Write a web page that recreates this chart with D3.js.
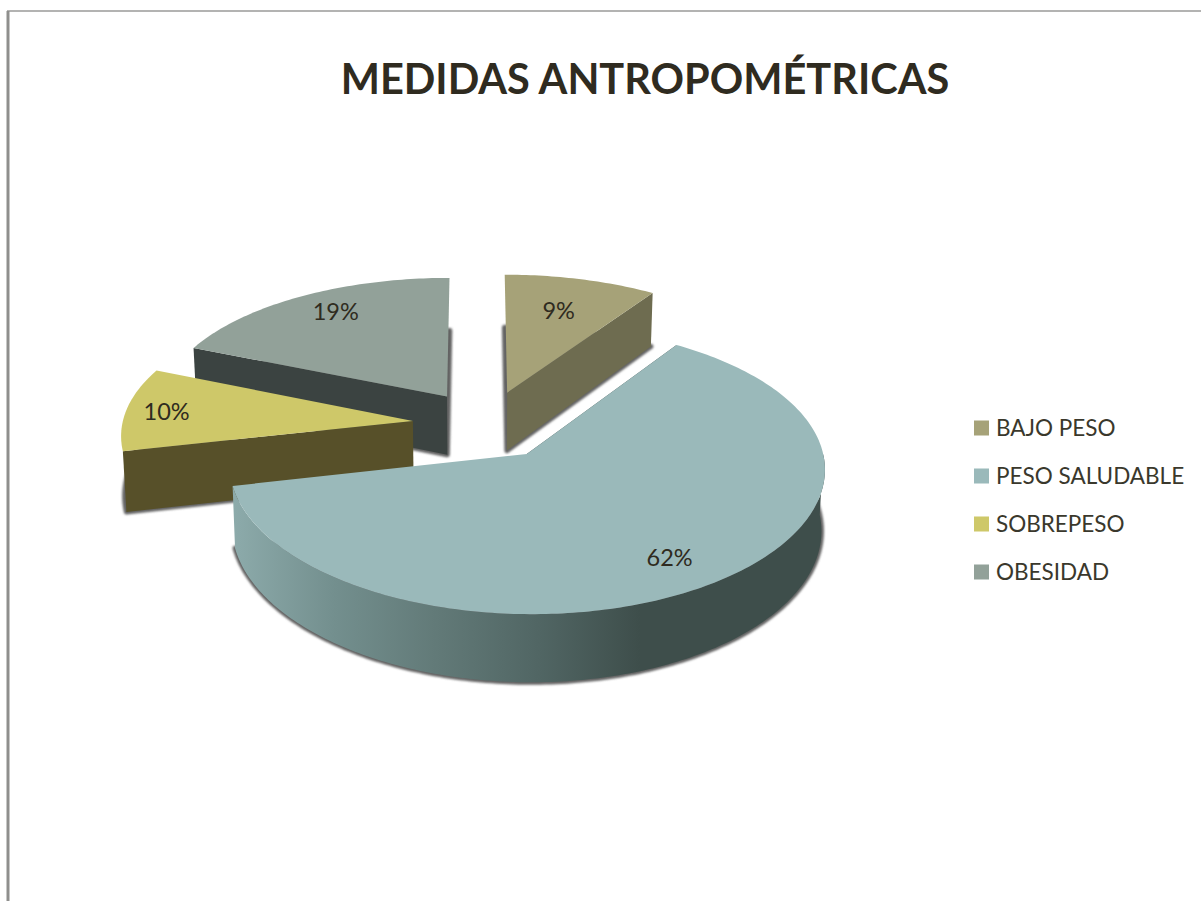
<!DOCTYPE html>
<html>
<head>
<meta charset="utf-8">
<script src="https://cdnjs.cloudflare.com/ajax/libs/d3/7.8.5/d3.min.js"></script>
<style>
html,body{margin:0;padding:0;background:#fff;overflow:hidden}
text{font-family:Lato,"Open Sans",sans-serif}
</style>
</head>
<body>
<div id="chart"></div>
<script>
var categories = ["BAJO PESO","PESO SALUDABLE","SOBREPESO","OBESIDAD"]
var percents = [9.4,62.1,9.8,18.7]
var topColors = ["#a6a278","#9ab9ba","#cec869","#92a199"]
var wallColors = ["#6e6c50","#3e4e4b","#575029","#3b4341"]

var width = 1201
var height = 901

// projection of the tilted disc
var cx = 477, cy = 426
var rx = 291, ry = 137, focal = 9.5, focalX = 11, depth = 59.5, bottomShrink = 0.99
// how far each slice is pulled out of the pie, in radius units
var explodeX = [0.106,0.168,-0.221,-0.105]
var explodeY = [0.25,-0.2,0.037,0.22]
var labelRadius = [0.71,0.8,0.86,0.815]
var labelTurn = [-0.012,0.015,0,0.045]
var drawOrder = [3,2,0,1]

var svg = d3.select("#chart").append("svg").attr("width",width).attr("height",height)
var defs = svg.append("defs")

defs.append("filter").attr("id","soft")
	.attr("x","-10%").attr("y","-10%").attr("width","120%").attr("height","120%")
	.append("feGaussianBlur").attr("stdDeviation",1.3)

var grad = defs.append("linearGradient").attr("id","wallGrad")
	.attr("gradientUnits","userSpaceOnUse")
	.attr("x1",232).attr("x2",640).attr("y1",0).attr("y2",0)
grad.selectAll("stop")
	.data([[0,"#8dabab"],[0.25,"#738f8e"],[0.5,"#627a78"],[0.75,"#516664"],[1,"#3e4e4b"]])
	.enter().append("stop")
	.attr("offset",function(d){return d[0]})
	.attr("stop-color",function(d){return d[1]})

// frame
svg.append("line").attr("x1",7).attr("x2",width).attr("y1",11).attr("y2",11)
	.attr("stroke","#9a9a98").attr("stroke-width",1.5)
svg.append("line").attr("x1",8).attr("x2",8).attr("y1",11).attr("y2",height)
	.attr("stroke","#8f8f8d").attr("stroke-width",3)

svg.append("text").text("MEDIDAS ANTROPOMÉTRICAS")
	.attr("x",645).attr("y",94).attr("text-anchor","middle")
	.style("font-size","41.5px").style("font-weight",700).attr("fill","#2f2b20")

var pie = d3.pie().sort(null).value(function(d){return d})
var slices = pie(percents)
var total = d3.sum(percents)
var line = d3.line()

function project(i,r,angle,level){
	var X = explodeX[i]+r*Math.sin(angle)
	var V = explodeY[i]+r*Math.cos(angle)
	var g = focal/(focal+V)
	var x = rx*X*focalX/(focalX+V)
	var y = -ry*V*g+level*depth*g
	if(level==1){ x = x*bottomShrink }
	return [cx+x,cy+y]
}
function arcPoints(i,a0,a1,level){
	var n = Math.max(2,Math.ceil(Math.abs(a1-a0)*60))
	return d3.range(n+1).map(function(k){
		return project(i,1,a0+(a1-a0)*k/n,level)
	})
}
function face(i,level){
	var s = slices[i]
	return [project(i,0,0,level)].concat(arcPoints(i,s.startAngle,s.endAngle,level))
}

drawOrder.forEach(function(i){
	var s = slices[i]
	var g = svg.append("g").attr("class","slice")

	// soft shadow under the slice
	g.append("path").attr("d",line(face(i,1))+"Z")
		.attr("fill","#646464").attr("stroke","#646464").attr("stroke-width",5)
		.attr("stroke-linejoin","round").attr("filter","url(#soft)")

	// flat cut side, the one facing the viewer
	var cutAngle = i==0 ? s.endAngle : s.startAngle
	g.append("path")
		.attr("d",line([project(i,0,0,0),project(i,1,cutAngle,0),project(i,1,cutAngle,1),project(i,0,0,1)])+"Z")
		.attr("fill",wallColors[i])

	// rounded rim, only the front of the big slice shows it
	if(i==1){
		var rimStart = Math.PI/2
		var top = arcPoints(i,rimStart,s.endAngle,0)
		var bottom = arcPoints(i,s.endAngle,rimStart,1)
		g.append("path").attr("d",line(top.concat(bottom))+"Z")
			.attr("fill","url(#wallGrad)")
	}

	g.append("path").attr("d",line(face(i,0))+"Z").attr("fill",topColors[i])
})

// percent labels
slices.forEach(function(s,i){
	var p = project(i,labelRadius[i],(s.startAngle+s.endAngle)/2+labelTurn[i],0)
	svg.append("text").text(d3.format(".0f")(s.value/total*100)+"%")
		.attr("x",p[0]).attr("y",p[1]+9).attr("text-anchor","middle")
		.style("font-size","23.5px").attr("fill","#2f2b20")
})

// legend
var legendY = d3.scalePoint().domain(categories).range([428,572])
categories.forEach(function(c,i){
	svg.append("rect").attr("x",974).attr("y",legendY(c)-7.5).attr("width",15).attr("height",15)
		.attr("fill",topColors[i])
	svg.append("text").text(c).attr("x",996).attr("y",legendY(c)+8)
		.style("font-size","22.5px").attr("fill","#3a382c")
})
</script>
</body>
</html>
